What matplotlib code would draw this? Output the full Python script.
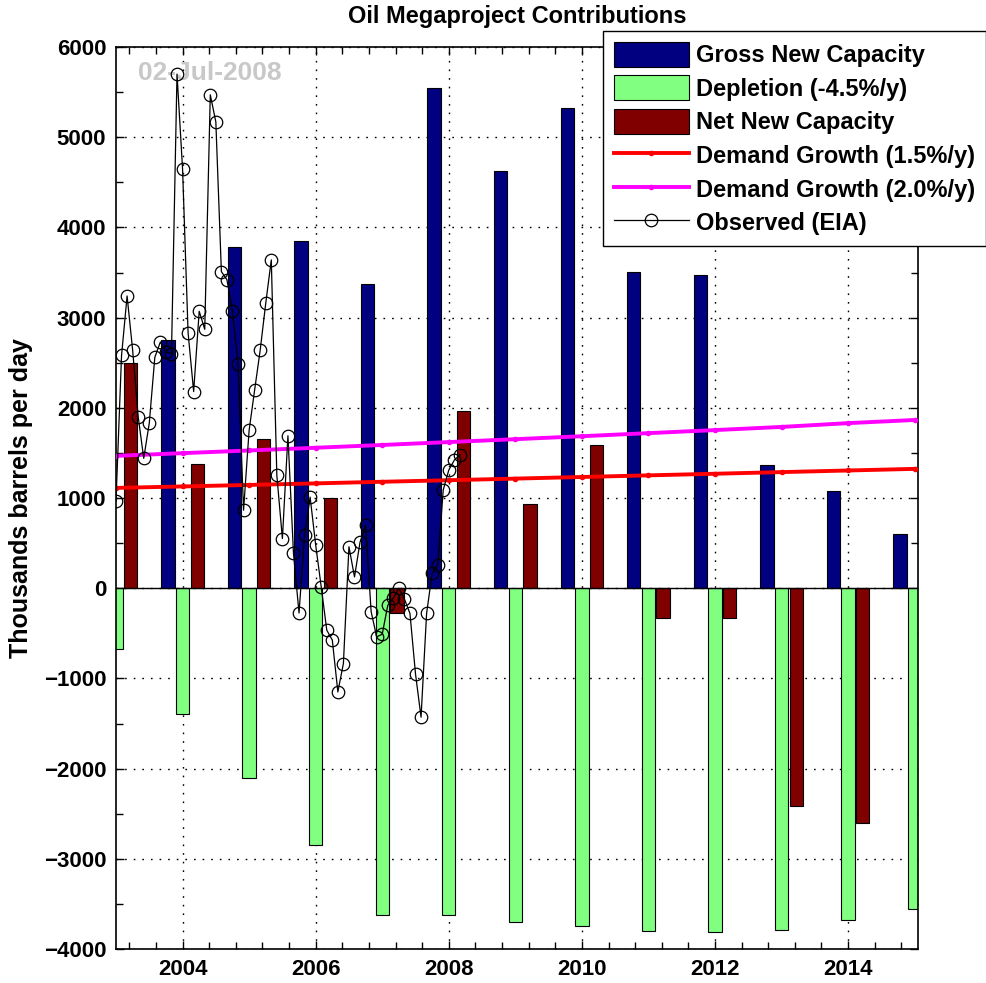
import matplotlib
matplotlib.use('Agg')
import matplotlib.pyplot as plt
import numpy as np
from matplotlib.patches import Patch
from matplotlib.lines import Line2D
from matplotlib.ticker import MultipleLocator, FixedLocator

plt.rcParams['font.family'] = ['Liberation Sans', 'DejaVu Sans']
plt.rcParams['font.weight'] = 'bold'

# ---------------- data ----------------
years = [2003, 2004, 2005, 2006, 2007, 2008, 2009, 2010, 2011, 2012, 2013, 2014, 2015]
gross = [3180, 2750, 3780, 3850, 3370, 5550, 4630, 5320, 3510, 3470, 1370, 1080, 600]
depletion = [-670, -1400, -2100, -2850, -3620, -3620, -3700, -3750, -3800, -3810, -3790, -3680, -3555]
net = [2500, 1380, 1650, 1000, -280, 1960, 935, 1590, -330, -330, -2420, -2600, -2950]
demand_15 = [1112, 1128, 1145, 1162, 1180, 1197, 1215, 1233, 1251, 1269, 1287, 1305, 1323]
demand_20 = [1467, 1497, 1527, 1557, 1588, 1620, 1652, 1685, 1719, 1753, 1788, 1830, 1865]

obs_start_year = 2003   # first monthly observation: Jan 2003
observed = [970, 2580, 3240, 2640, 1900, 1440, 1830, 2560, 2730, 2620, 2600, 5700,
            4650, 2830, 2180, 3070, 2870, 5470, 5170, 3510, 3420, 3070, 2490, 865,
            1750, 2200, 2640, 3160, 3640, 1250, 550, 1690, 385, -275, 585, 1010,
            480, 15, -465, -575, -1150, -835, 460, 125, 510, 700, -260, -540,
            -510, -190, -110, 0, -120, -280, -950, -1430, -280, 165, 255, 1090,
            1310, 1420, 1480]

date_text = '02-Jul-2008'
labels = ['Gross New Capacity', 'Depletion (-4.5%/y)', 'Net New Capacity',
          'Demand Growth (1.5%/y)', 'Demand Growth (2.0%/y)', 'Observed (EIA)']

c_gross = '#000080'
c_depl = '#80ff80'
c_net = '#800000'

# ---------------- figure ----------------
fig = plt.figure(figsize=(9.87, 9.83), dpi=100)
ax = fig.add_axes([116/987, 1-949/983, (918-116)/987, (949-47)/983])

yrs = np.array(years, dtype=float)
bw = 0.2
off = 0.22
ax.bar(yrs - off, gross, width=bw, color=c_gross, edgecolor='black', linewidth=0.8, zorder=2)
ax.bar(yrs, depletion, width=bw, color=c_depl, edgecolor='black', linewidth=0.8, zorder=2)
ax.bar(yrs + off, net, width=bw, color=c_net, edgecolor='black', linewidth=0.8, zorder=2)
ax.axhline(0, color='black', linewidth=1.0, zorder=2.5)

ax.plot(yrs, demand_15, color='#ff0000', linewidth=2.8, marker='.', markersize=6, zorder=3)
ax.plot(yrs, demand_20, color='#ff00ff', linewidth=2.8, marker='.', markersize=6, zorder=3)

obs_x = obs_start_year + np.arange(len(observed)) / 12.0
ax.plot(obs_x, observed, color='black', linewidth=0.9, marker='o', markersize=9,
        markerfacecolor='none', markeredgecolor='black', markeredgewidth=0.9, zorder=4)

ax.set_xlim(2003.0, 2015.05)
ax.set_ylim(-4000, 6000)

ax.xaxis.set_major_locator(FixedLocator([2004, 2006, 2008, 2010, 2012, 2014]))
ax.xaxis.set_minor_locator(MultipleLocator(0.4))
ax.yaxis.set_major_locator(MultipleLocator(1000))
ax.yaxis.set_minor_locator(MultipleLocator(500))
ax.set_xticklabels(['2004', '2006', '2008', '2010', '2012', '2014'])

ax.tick_params(which='both', direction='in', top=True, right=True, width=1.0)
ax.tick_params(which='major', length=6, labelsize=16, pad=7)
ax.tick_params(which='minor', length=5)
for lab in ax.get_xticklabels() + ax.get_yticklabels():
    lab.set_fontweight('bold')

ax.grid(True, which='major', color='black', linestyle=(0, (1.2, 5)), linewidth=1.0, zorder=0)
ax.set_axisbelow(True)
for s in ax.spines.values():
    s.set_linewidth(1.2)

ax.set_title('Oil Megaproject Contributions', fontsize=17, fontweight='bold', pad=17)
ax.set_ylabel('Thousands barrels per day', fontsize=18, fontweight='bold', labelpad=8)

ax.text(0.027, 0.985, date_text, transform=ax.transAxes, color='#c8c8c8', fontsize=19,
        fontweight='bold', ha='left', va='top', zorder=1)

handles = [Patch(facecolor=c_gross, edgecolor='black', linewidth=0.8),
           Patch(facecolor=c_depl, edgecolor='black', linewidth=0.8),
           Patch(facecolor=c_net, edgecolor='black', linewidth=0.8),
           Line2D([], [], color='#ff0000', linewidth=2.8, marker='.', markersize=6),
           Line2D([], [], color='#ff00ff', linewidth=2.8, marker='.', markersize=6),
           Line2D([], [], color='black', linewidth=0.9, marker='o', markersize=9,
                  markerfacecolor='none', markeredgewidth=0.9)]
leg = fig.legend(handles, labels, loc='upper right', bbox_to_anchor=(986/987, 1-31/983),
                 fontsize=17, frameon=True, fancybox=False, edgecolor='black',
                 framealpha=1, handlelength=3.2, handleheight=1.25, handletextpad=0.3,
                 labelspacing=0.35, borderpad=0.45, borderaxespad=0)
leg.get_frame().set_linewidth(1.0)
for t in leg.get_texts():
    t.set_fontweight('bold')

fig.savefig('out.png', dpi=100)
